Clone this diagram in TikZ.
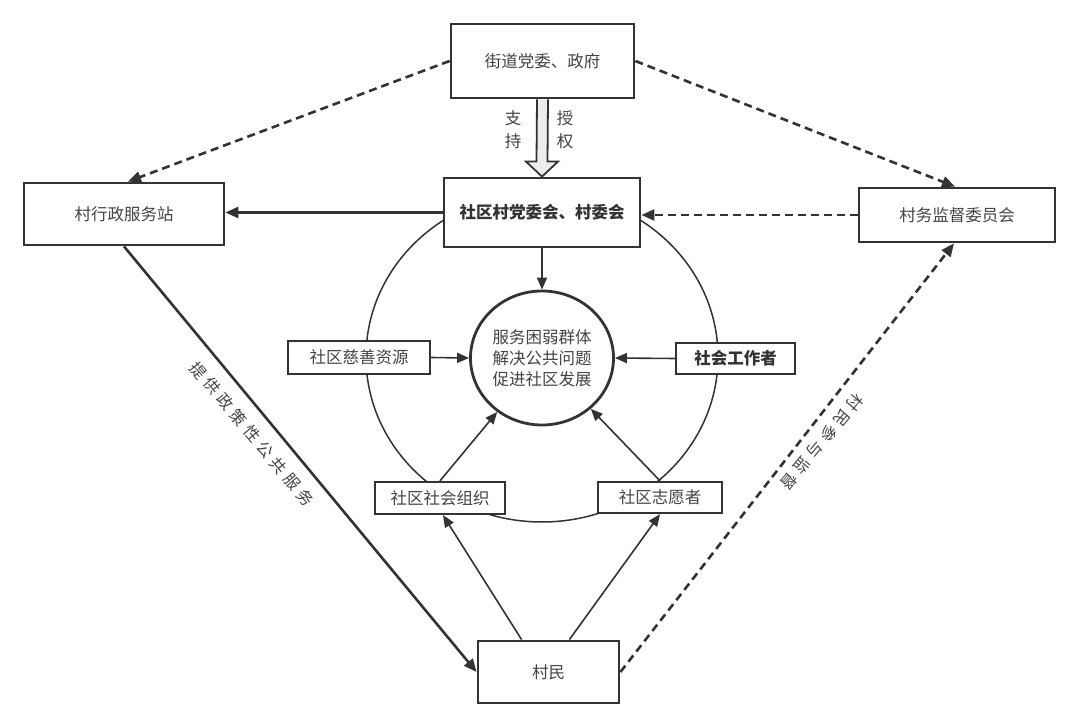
\documentclass[tikz,border=0pt]{standalone}
\usepackage{fontspec}
\setmainfont{Noto Sans CJK SC}
\newfontfamily\spacedfont[LetterSpace=30]{Noto Sans CJK SC}
\usetikzlibrary{arrows.meta,calc,shapes.geometric}
\definecolor{ink}{HTML}{333333}
\definecolor{txt}{HTML}{444444}
\begin{document}
\begin{tikzpicture}[x=1pt,y=-1pt,
  font=\fontsize{16.5}{21}\selectfont,
  bigbox/.style n args={2}{draw=ink, line width=2.8pt, fill=white, text=txt, inner sep=0pt, minimum width=#1, minimum height=#2},
  smallbox/.style n args={2}{draw=ink, line width=2.3pt, fill=white, text=txt, inner sep=0pt, minimum width=#1, minimum height=#2},
  mainline/.style={draw=ink, line width=2.6pt, -{Triangle[length=13pt,width=11pt]}},
  dashline/.style={mainline, dash pattern=on 8pt off 5pt},
  thinline/.style={draw=ink, line width=1.6pt, -{Triangle[length=12pt,width=10pt]}},
  lbl/.style={text=txt, inner sep=0pt}
]
\fill[white] (0,0) rectangle (1080,727);
\useasboundingbox (0,0) rectangle (1080,727);

% outer ring
\draw[ink, line width=1.5pt] (542,357) ellipse [x radius=176, y radius=165];

% nodes
\node[bigbox={183pt}{74pt}] (gov) at (542.5,61) {街道党委、政府};
\node[bigbox={196pt}{69pt}, text=ink, font=\fontsize{16.5}{21}\selectfont\bfseries] (committee) at (542,212.5) {社区村党委会、村委会};
\node[bigbox={200pt}{62pt}] (admin) at (124,214) {村行政服务站};
\node[bigbox={196pt}{54pt}] (supervise) at (957,215) {村务监督委员会};
\node[bigbox={141pt}{62pt}] (villager) at (548.5,672) {村民};
\node[ellipse, draw=ink, line width=2.8pt, fill=white, text=txt, inner sep=0pt,
      minimum width=143pt, minimum height=134pt, align=center] (goal) at (542,358)
      {服务困弱群体\\解决公共问题\\促进社区发展};
\node[smallbox={142pt}{33pt}] (charity) at (359,357.5) {社区慈善资源};
\node[smallbox={119pt}{31pt}, text=ink, font=\fontsize{16.5}{21}\selectfont\bfseries] (worker) at (735.5,358.5) {社会工作者};
\node[smallbox={130pt}{32pt}] (org) at (440,498) {社区社会组织};
\node[smallbox={124pt}{31pt}] (vol) at (660,497.5) {社区志愿者};

% hollow arrow: support and authorise
\draw[ink, line width=1.8pt, fill=black!7, line join=miter]
  ($(gov.south)+(-5.5,0)$) -- ($(committee.north)+(-5.5,-15)$) -- ++(-10.5,0)
  -- (committee.north) -- ($(committee.north)+(16,-15)$) -- ++(-10.5,0)
  -- ($(gov.south)+(5.5,0)$);
\node[lbl, align=center, font=\fontsize{16.5}{23}\selectfont] (support) at (513,130) {支\\持};
\node[lbl, align=center, font=\fontsize{16.5}{23}\selectfont] (authorise) at (565,130) {授\\权};

% connectors
\draw[dashline] (gov.west) -- ($(admin.north)+(4,0)$);
\draw[dashline] (gov.east) -- ($(supervise.north)+(-2,0)$);
\draw[mainline] (committee.west) -- (committee.west -| admin.east);
\draw[dashline] (supervise.west) -- (supervise.west -| committee.east);
\draw[mainline] (admin.south) -- (villager.west);
\draw[dashline] (villager.east) -- ($(supervise.south)+(-3,0)$);

\draw[thinline] (committee.south) -- (goal.north);
\draw[thinline] (charity.east) -- (goal.west);
\draw[thinline] (worker.west) -- (goal.east);
\draw[thinline] (org.north) -- (goal);
\draw[thinline] (vol.north) -- (goal);
\draw[thinline] ($(villager.north west)+(45,0)$) -- ($(org.south)+(3,0)$);
\draw[thinline] ($(villager.north east)+(-51,0)$) -- (vol.south);

% rotated labels
\node[lbl, rotate=-50, font=\spacedfont\fontsize{16}{20}\selectfont] (servicelbl) at (252,434) {提供政策性公共服务};
\node[lbl, rotate=-130, font=\spacedfont\fontsize{16}{20}\selectfont] (monitorlbl) at (822,442) {村民参与监督};
\end{tikzpicture}
\end{document}
